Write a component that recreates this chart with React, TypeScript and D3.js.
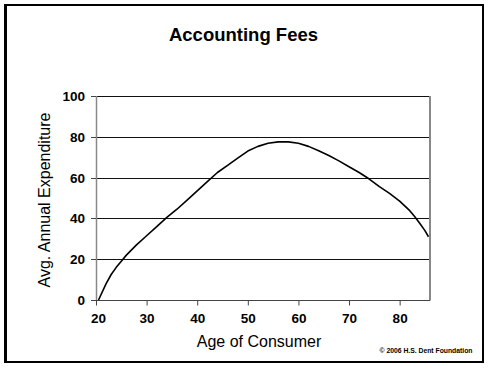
import React, { useRef, useEffect } from 'react';
import * as d3 from 'd3';

const ages = [20.5, 22, 23, 24, 25, 26, 28, 30, 32, 34, 36, 38, 40, 42, 44, 46, 48, 50, 52, 54, 56, 58, 60, 62, 64, 66, 68, 70, 72, 74, 76, 78, 80, 82, 83, 84, 85, 85.7];
const expenditure = [0, 8, 12.5, 16, 19, 22, 27, 31.5, 36, 40.5, 44.5, 49, 53.5, 58, 62.5, 66, 69.5, 73, 75.3, 76.8, 77.5, 77.5, 76.8, 75.3, 73.2, 70.8, 68.2, 65.3, 62.5, 59.3, 55.6, 52.3, 48.5, 43.8, 40.8, 37.5, 34, 31];
const xTicks = [20, 30, 40, 50, 60, 70, 80];
const yTicks = [0, 20, 40, 60, 80, 100];

const W = 491;
const H = 369;
const font = 'Arial, "Liberation Sans", Helvetica, sans-serif';

const App: React.FC = () => {
  const svgRef = useRef<SVGSVGElement>(null);

  useEffect(() => {
    if (!svgRef.current) return;
    document.body.style.margin = '0';
    const svg = d3.select(svgRef.current);
    svg.selectAll('*').remove();

    const left = 96, right = 430, top = 96, bottom = 300;
    const x = d3.scaleLinear().domain([20, 86]).range([left, right]);
    const y = d3.scaleLinear().domain([0, 100]).range([bottom, top]);

    svg.append('rect').attr('width', W).attr('height', H).attr('fill', '#fff');

    // outer frame
    svg.append('rect')
      .attr('x', 5).attr('y', 5).attr('width', 478).attr('height', 357)
      .attr('fill', 'none').attr('stroke', '#000').attr('stroke-width', 2);
    svg.append('line').attr('x1', 5.5).attr('x2', 5.5).attr('y1', 4).attr('y2', 363)
      .attr('stroke', '#000').attr('stroke-width', 3);

    // gridlines
    svg.append('g')
      .selectAll('line')
      .data(yTicks.filter(d => d > 0))
      .join('line')
      .attr('x1', left).attr('x2', right)
      .attr('y1', d => Math.round(y(d)) + 0.5).attr('y2', d => Math.round(y(d)) + 0.5)
      .attr('stroke', '#111').attr('stroke-width', 1);

    // plot border left / right
    svg.append('line').attr('x1', left + 0.5).attr('x2', left + 0.5).attr('y1', top).attr('y2', bottom)
      .attr('stroke', '#888').attr('stroke-width', 1.5);
    svg.append('line').attr('x1', right).attr('x2', right).attr('y1', top).attr('y2', bottom + 0.5)
      .attr('stroke', '#888').attr('stroke-width', 2);

    // x axis
    const xAxis = svg.append('g')
      .attr('transform', `translate(0,${bottom + 0.5})`)
      .call(d3.axisBottom(x).tickValues(xTicks).tickSize(5).tickSizeOuter(0).tickPadding(8).tickFormat(d3.format('d')));
    xAxis.select('.domain').attr('stroke', '#444').attr('d', `M${left - 5},0H${right}`);
    xAxis.selectAll('.tick line').attr('stroke', '#444');
    xAxis.selectAll('text')
      .attr('fill', '#000').attr('font-family', font).attr('font-size', 13.5).attr('font-weight', 'bold')
      .attr('dx', (d: any) => (d === 20 ? 2 : 0));

    // y axis ticks & labels
    const yAxis = svg.append('g')
      .attr('transform', `translate(${left},0)`)
      .call(d3.axisLeft(y).tickValues(yTicks).tickSize(5).tickSizeOuter(0).tickPadding(6));
    yAxis.select('.domain').remove();
    yAxis.selectAll('.tick line').attr('stroke', '#444');
    yAxis.selectAll('.tick').attr('transform', (d: any) => `translate(0,${Math.round(y(d)) + 0.5})`);
    yAxis.selectAll('text')
      .attr('fill', '#000').attr('font-family', font).attr('font-size', 13.5).attr('font-weight', 'bold');

    // curve
    const line = d3.line<number>()
      .x((_, i) => x(ages[i]))
      .y(d => y(d));
    svg.append('path')
      .attr('d', line(expenditure)!)
      .attr('fill', 'none').attr('stroke', '#000').attr('stroke-width', 1.6)
      .attr('stroke-linejoin', 'round');

    // texts
    svg.append('text').attr('x', 243.5).attr('y', 41)
      .attr('text-anchor', 'middle').attr('font-family', font).attr('font-size', 18.5).attr('font-weight', 'bold')
      .text('Accounting Fees');
    svg.append('text').attr('x', 259).attr('y', 346.5)
      .attr('text-anchor', 'middle').attr('font-family', font).attr('font-size', 16)
      .text('Age of Consumer');
    svg.append('text')
      .attr('transform', `translate(49.5,200) rotate(-90)`)
      .attr('text-anchor', 'middle').attr('font-family', font).attr('font-size', 16)
      .text('Avg. Annual Expenditure');
    svg.append('text').attr('x', 472.5).attr('y', 352.5)
      .attr('text-anchor', 'end').attr('font-family', font).attr('font-size', 6.8).attr('font-weight', 'bold')
      .text('© 2006 H.S. Dent Foundation');
  }, []);

  return <svg ref={svgRef} width={W} height={H} style={{ position: 'absolute', left: 0, top: 0 }} />;
};

export default App;
